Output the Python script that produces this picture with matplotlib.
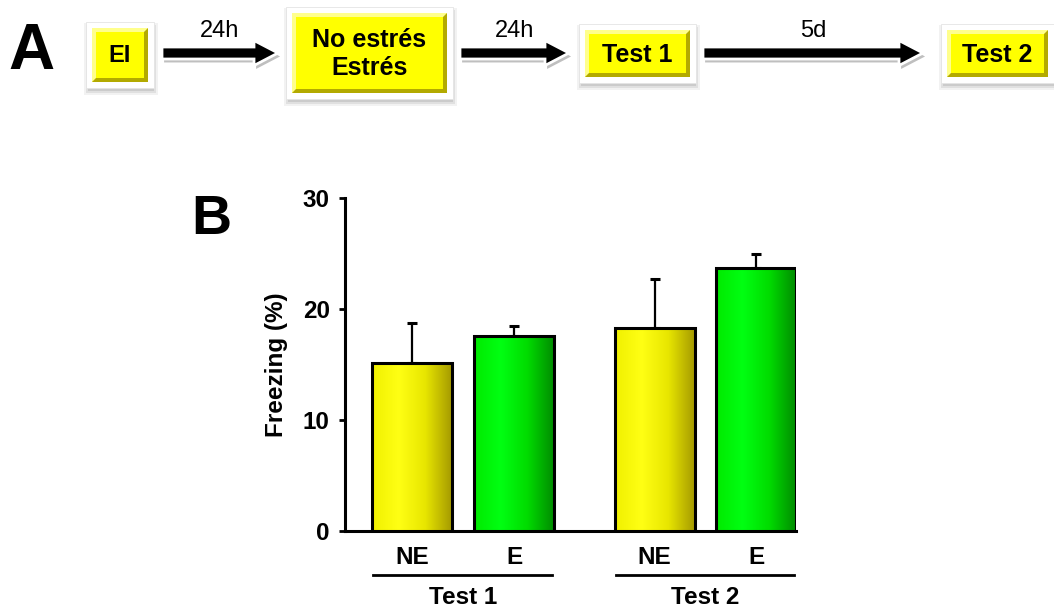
import numpy as np
import matplotlib
matplotlib.use('Agg')
import matplotlib.pyplot as plt
import matplotlib.patheffects as pe
from matplotlib.patches import Rectangle, Polygon, FancyArrow
from matplotlib.colors import LinearSegmentedColormap

plt.rcParams['font.family'] = ['Liberation Sans', 'DejaVu Sans']

# Panel A: protocol timeline
stages = ['EI', 'No estrés\nEstrés', 'Test 1', 'Test 2']
intervals = ['24h', '24h', '5d']

# Panel B: freezing (%)
groups = ['Test 1', 'Test 2']
conditions = ['NE', 'E', 'NE', 'E']
freezing_mean = [15.1, 17.6, 18.3, 23.7]
freezing_sem = [3.6, 0.9, 4.4, 1.3]


def draw_box(ax, x0, y0, x1, y1, text, size):
    """Yellow bevelled box with a white frame and soft shadow (pixel coords)."""
    for k, a in zip([9, 7, 5], [0.05, 0.07, 0.09]):
        ax.add_patch(Rectangle((x0 - k + 1, y0 - k + 4), x1 - x0 + 2 * k, y1 - y0 + 2 * k,
                               fc='black', ec='none', alpha=a, zorder=1))
    ax.add_patch(Rectangle((x0 - 6, y0 - 6), x1 - x0 + 12, y1 - y0 + 12,
                           fc='white', ec='#e4e4e4', lw=0.6, zorder=2))
    b = 4
    ax.add_patch(Rectangle((x0, y0), x1 - x0, y1 - y0, fc='#b3aa00', ec='none', zorder=3))
    ax.add_patch(Polygon([(x0, y0), (x1, y0), (x1 - b, y0 + b), (x0 + b, y0 + b),
                          (x0 + b, y1 - b), (x0, y1)], fc='#ffff8c', ec='none', zorder=3))
    ax.add_patch(Rectangle((x0 + b, y0 + b), x1 - x0 - 2 * b, y1 - y0 - 2 * b,
                           fc='#ffff00', ec='none', zorder=4))
    ax.text((x0 + x1) / 2, (y0 + y1) / 2 + 1, text, ha='center', va='center',
            fontsize=size, fontweight='bold', linespacing=1.2, zorder=5)


def draw_arrow(ax, xs, xe, y, label):
    arr = FancyArrow(xs, y, xe - xs, 0, width=12, head_width=25, head_length=24,
                     length_includes_head=True, fc='black', ec='white', lw=2.0, zorder=3)
    arr.set_path_effects([pe.SimplePatchShadow(offset=(1.5, -2.5), shadow_rgbFace='black', alpha=0.25),
                          pe.Normal()])
    ax.add_patch(arr)
    ax.text((xs + xe) / 2, y - 22, label, ha='center', va='center', fontsize=17)


fig = plt.figure(figsize=(10.54, 6.13), dpi=100)

# overlay in pixel coordinates for panel A
ax0 = fig.add_axes([0, 0, 1, 1])
ax0.set_xlim(0, 1054)
ax0.set_ylim(613, 0)
ax0.axis('off')

box_px = [(92, 28, 148, 82), (292, 13, 447, 93), (585, 30, 690, 77), (947, 30, 1048, 77)]
box_font = [17, 18, 18, 18]
for (x0, y0, x1, y1), s, fs in zip(box_px, stages, box_font):
    draw_box(ax0, x0, y0, x1, y1, s, fs)

arrow_px = [(162, 278, 53), (460, 569, 53), (703, 923, 53)]
for (xs, xe, y), lab in zip(arrow_px, intervals):
    draw_arrow(ax0, xs, xe, y, lab)

ax0.text(31, 52, 'A', ha='center', va='center', fontsize=46, fontweight='bold')
ax0.text(211, 220, 'B', ha='center', va='center', fontsize=40, fontweight='bold')

# Panel B: bar chart
ax = fig.add_axes([345 / 1054, 1 - 531 / 613, 451 / 1054, 333 / 613])
x = np.array([0, 1, 2.37, 3.36])
w = 0.78

yellow_cmap = LinearSegmentedColormap.from_list('ye', ['#f0f000', '#ffff14', '#e8e600', '#a59a00'])
green_cmap = LinearSegmentedColormap.from_list('gr', ['#00ea00', '#00ff12', '#00dc00', '#008c00'])
grad = np.linspace(0, 1, 256).reshape(1, -1)

ax.errorbar(x, freezing_mean, yerr=[np.zeros(4), freezing_sem], fmt='none', ecolor='black',
            elinewidth=1.6, capsize=3.5, capthick=2.2, zorder=2)
for xi, m, cond in zip(x, freezing_mean, conditions):
    cmap = yellow_cmap if cond == 'NE' else green_cmap
    ax.imshow(grad, extent=[xi - w / 2, xi + w / 2, 0, m], aspect='auto', cmap=cmap, zorder=3)
ax.bar(x, freezing_mean, width=w, color='none', edgecolor='black', linewidth=2.2, zorder=4)

ax.set_xlim(x[0] - 0.652, x[-1] + w / 2)
ax.set_ylim(0, 30)
ax.set_yticks([0, 10, 20, 30])
ax.set_xticks(x, conditions)
for lab in ax.get_xticklabels() + ax.get_yticklabels():
    lab.set_fontweight('bold')
ax.tick_params(axis='y', direction='out', length=4, width=2, labelsize=17.5, pad=7)
ax.tick_params(axis='x', length=0, labelsize=17.5, pad=11)
ax.spines[['top', 'right']].set_visible(False)
ax.spines[['left', 'bottom']].set_linewidth(2.2)

ax.set_ylabel('Freezing (%)', fontsize=17.5, fontweight='bold', va='center')
ax.yaxis.set_label_coords(-69 / 451, 0.5)

# group lines and labels under the x axis
for gi, g in enumerate(groups):
    left = x[2 * gi] - w / 2 + 0.01
    right = x[2 * gi + 1] + w / 2 - 0.02
    ax.plot([left, right], [-3.96, -3.96], color='black', lw=2, clip_on=False)
    ax.text((x[2 * gi] + x[2 * gi + 1]) / 2, -5.95, g, ha='center', va='center',
            fontsize=17.5, fontweight='bold', clip_on=False)

fig.savefig('out.png', dpi=100)
